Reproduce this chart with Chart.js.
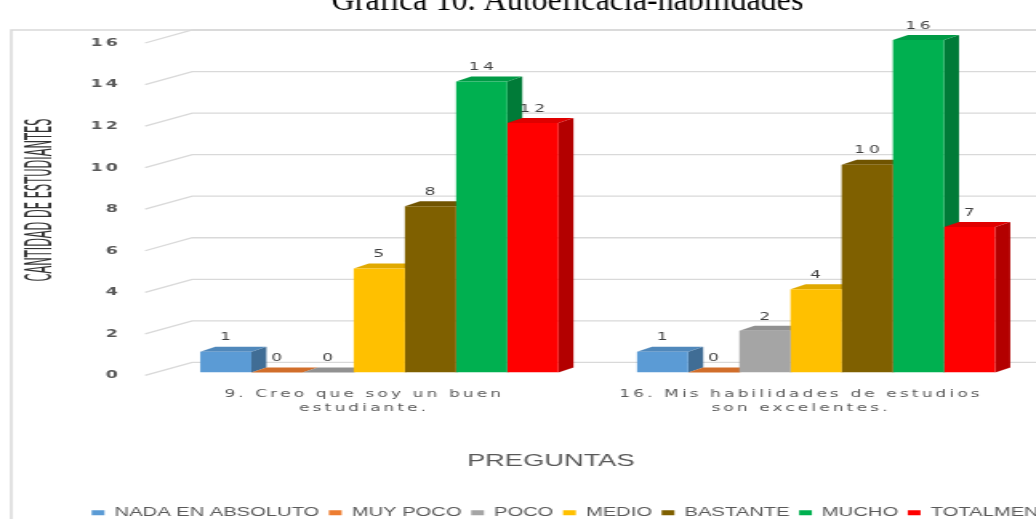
<!DOCTYPE html>
<html>
<head>
<meta charset="utf-8">
<title>Gráfica 10. Autoeficacia-habilidades</title>
<script src="https://cdn.jsdelivr.net/npm/chart.js"></script>
<style>
    html, body { margin: 0; padding: 0; background: #fff; overflow: hidden; }
    #wrap { position: relative; width: 1036px; height: 519px; overflow: hidden; }
    /* the canvas is drawn narrow and widened by css, which gives the wide lettering */
    #myChart { position: absolute; left: 0; top: -20px; }
</style>
</head>
<body>

<div id="wrap">
    <canvas id="myChart" width="712" height="560" style="width:1140px;height:560px"></canvas>
</div>

<script>
    var caption = 'Gráfica 10. Autoeficacia-habilidades';
    var xTitle = 'PREGUNTAS';
    var yTitle = 'CANTIDAD DE ESTUDIANTES';

    var preguntas = [
        ['9. Creo que soy un buen', 'estudiante.'],
        ['16. Mis habilidades de estudios', 'son excelentes.']
    ];
    var respuestas = ['NADA EN ABSOLUTO', 'MUY POCO', 'POCO', 'MEDIO', 'BASTANTE', 'MUCHO', 'TOTALMENTE'];
    var colores = ['#5B9BD5', '#ED7D31', '#A5A5A5', '#FFC000', '#7F6000', '#00B050', '#FF0000'];

    var nadaEnAbsoluto = [1, 1];
    var muyPoco = [0, 0];
    var poco = [0, 2];
    var medio = [5, 4];
    var bastante = [8, 10];
    var mucho = [14, 16];
    var totalmente = [12, 7];

    var yMax = 16;
    var yStep = 2;

    var series = [nadaEnAbsoluto, muyPoco, poco, medio, bastante, mucho, totalmente];

    var STRETCH = 1140 / 712;
    // depth of the fake 3d bars
    var DX = 9.4;
    var DY = 5;

    function shade(hex, f) {
        var n = parseInt(hex.slice(1), 16);
        var r = Math.round(((n >> 16) & 255) * f);
        var g = Math.round(((n >> 8) & 255) * f);
        var b = Math.round((n & 255) * f);
        return 'rgb(' + r + ',' + g + ',' + b + ')';
    }

    var bars3d = {
        id: 'bars3d',
        beforeDraw(chart) {
            var ctx = chart.ctx;
            ctx.letterSpacing = '0px';
            // frame of the picture
            ctx.save();
            ctx.strokeStyle = '#d9d9d9';
            ctx.lineWidth = 1.5;
            ctx.beginPath();
            ctx.moveTo(7, chart.height);
            ctx.lineTo(7, 50);
            ctx.lineTo(chart.width, 50);
            ctx.stroke();
            ctx.restore();
        },
        beforeDatasetsDraw(chart) {
            var ctx = chart.ctx;
            var y = chart.scales.y;
            ctx.save();
            // gridlines: short slanted piece on the side wall, then along the back wall
            ctx.strokeStyle = '#d9d9d9';
            ctx.lineWidth = 1.3;
            y.ticks.forEach(function (t) {
                var py = y.getPixelForValue(t.value);
                ctx.beginPath();
                ctx.moveTo(90.6, py + 3);
                ctx.lineTo(120, py - 10);
                ctx.lineTo(chart.width, py - 10);
                ctx.stroke();
            });
            // side and top faces, left to right so nearer faces cover
            chart.data.datasets.forEach(function (ds, i) {
                var meta = chart.getDatasetMeta(i);
                meta.data.forEach(function (bar) {
                    var p = bar.getProps(['x', 'y', 'base', 'width'], true);
                    var l = p.x - p.width / 2;
                    var r = p.x + p.width / 2;
                    ctx.fillStyle = shade(ds.backgroundColor, 0.7);
                    ctx.beginPath();
                    ctx.moveTo(r, p.y);
                    ctx.lineTo(r + DX, p.y - DY);
                    ctx.lineTo(r + DX, p.base - DY);
                    ctx.lineTo(r, p.base);
                    ctx.closePath();
                    ctx.fill();
                    ctx.fillStyle = shade(ds.backgroundColor, 0.88);
                    ctx.beginPath();
                    ctx.moveTo(l, p.y);
                    ctx.lineTo(l + DX, p.y - DY);
                    ctx.lineTo(r + DX, p.y - DY);
                    ctx.lineTo(r, p.y);
                    ctx.closePath();
                    ctx.fill();
                });
            });
            ctx.restore();
        },
        afterDatasetsDraw(chart) {
            var ctx = chart.ctx;
            ctx.save();
            ctx.letterSpacing = '2.5px';
            ctx.font = '10.5px "DejaVu Sans", sans-serif';
            ctx.fillStyle = '#404040';
            ctx.textAlign = 'center';
            ctx.textBaseline = 'middle';
            chart.data.datasets.forEach(function (ds, i) {
                chart.getDatasetMeta(i).data.forEach(function (bar, j) {
                    ctx.fillText(String(ds.data[j]), bar.x + 1, bar.y - 14);
                });
            });
            ctx.restore();
            // tick labels are drawn after this (z: 1) with spaced letters
            ctx.letterSpacing = '2px';
        },
        afterDraw(chart) {
            var ctx = chart.ctx;
            ctx.save();
            ctx.letterSpacing = '0px';
            ctx.fillStyle = '#595959';
            ctx.textAlign = 'center';
            ctx.textBaseline = 'middle';
            ctx.font = '17px "Liberation Sans", Arial, sans-serif';
            ctx.fillText(xTitle, 344, 481);

            ctx.save();
            ctx.fillStyle = '#333333';
            ctx.translate(26, 220);
            ctx.rotate(-Math.PI / 2);
            ctx.font = '22.7px "Liberation Sans Narrow", "DejaVu Sans Condensed", sans-serif';
            var w = ctx.measureText(yTitle).width;
            ctx.scale(163 / w, 1);
            ctx.fillText(yTitle, 0, 0);
            ctx.restore();

            // caption above the framed chart, kept at normal proportions
            ctx.fillStyle = '#000000';
            ctx.textBaseline = 'alphabetic';
            ctx.translate(354.4, 30);
            ctx.scale(1 / STRETCH, 1);
            ctx.font = '32px "Liberation Serif", "Times New Roman", serif';
            ctx.fillText(caption, 0, 0);
            ctx.restore();
        }
    };

    var datasets = respuestas.map(function (name, i) {
        return {
            label: name,
            data: series[i],
            backgroundColor: colores[i],
            borderWidth: 0,
            barPercentage: 1,
            categoryPercentage: 0.82
        };
    });

    var ctx = document.getElementById('myChart').getContext('2d');
    var myChart = new Chart(ctx, {
        type: 'bar',
        data: {
            labels: preguntas,
            datasets: datasets
        },
        options: {
            responsive: false,
            animation: false,
            devicePixelRatio: 1,
            layout: {
                padding: { left: 40, right: 30, top: 60, bottom: 11 }
            },
            scales: {
                x: {
                    grid: { display: false, drawTicks: false },
                    border: { display: false },
                    ticks: {
                        color: '#595959',
                        font: { family: '"DejaVu Sans", sans-serif', size: 10.5, lineHeight: 1.33 },
                        padding: 15,
                        labelOffset: -9.4,
                        maxRotation: 0,
                        autoSkip: false,
                        z: 1
                    },
                    afterFit: function (scale) { scale.height = 128; }
                },
                y: {
                    min: 0,
                    max: yMax,
                    grid: { display: false, drawTicks: false },
                    border: { display: false },
                    ticks: {
                        stepSize: yStep,
                        color: '#595959',
                        font: { family: '"DejaVu Sans", sans-serif', size: 11, weight: 'bold' },
                        padding: 24.75,
                        labelOffset: 3,
                        z: 1
                    },
                    afterFit: function (scale) { scale.width = 60.5; }
                },
                // empty strip on the right, the back wall runs on behind it
                y2: {
                    position: 'right',
                    grid: { display: false, drawTicks: false },
                    border: { display: false },
                    ticks: { display: false },
                    afterFit: function (scale) { scale.width = 35.9; }
                }
            },
            plugins: {
                title: { display: false },
                legend: {
                    position: 'bottom',
                    labels: {
                        boxWidth: 8,
                        boxHeight: 5,
                        padding: 6,
                        color: '#595959',
                        font: { family: '"Liberation Sans", Arial, sans-serif', size: 12.6 }
                    }
                },
                tooltip: { enabled: false }
            }
        },
        plugins: [bars3d]
    });
</script>

</body>
</html>
